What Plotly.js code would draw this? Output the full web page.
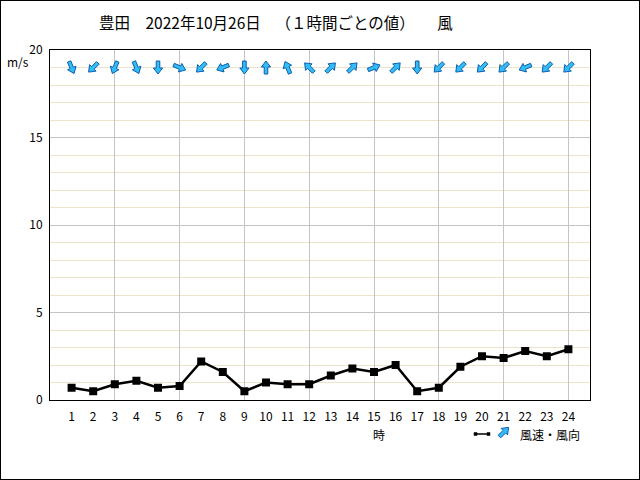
<!DOCTYPE html>
<html>
<head>
<meta charset="utf-8">
<script src="https://cdn.plot.ly/plotly-3.0.1.min.js"></script>
<style>
  html, body { margin: 0; padding: 0; background: #ffffff; }
  #plot { width: 640px; height: 480px; box-shadow: inset 0 0 0 1px #000000; }
</style>
</head>
<body>
<div id="plot"></div>
<script>
// ---- data ----
const hours = [1, 2, 3, 4, 5, 6, 7, 8, 9, 10, 11, 12, 13, 14, 15, 16, 17, 18, 19, 20, 21, 22, 23, 24];
const hourLabels = ['1','2','3','4','5','6','7','8','9','10','11','12','13','14','15','16','17','18','19','20','21','22','23','24'];
const windSpeed = [0.7, 0.5, 0.9, 1.1, 0.7, 0.8, 2.2, 1.6, 0.5, 1.0, 0.9, 0.9, 1.4, 1.8, 1.6, 2.0, 0.5, 0.7, 1.9, 2.5, 2.4, 2.8, 2.5, 2.9];
// direction the wind blows FROM (16 points)
const windFrom = ['北北西','北東','北北東','北北西','北','西北西','北東','東北東','北','南','南南東','南東',
                  '南西','南西','西南西','南西','北','北東','北東','北東','北東','東北東','北東','北東'];
const compass16 = ['北','北北東','北東','東北東','東','東南東','南東','南南東','南','南南西','南西','西南西','西','西北西','北西','北北西'];
const yTickVals = [0, 5, 10, 15, 20];
const arrowLevel = 19;

const FONT = '"Noto Sans CJK JP", "Noto Sans", sans-serif';
const ARROW_FILL = '#33BDF5';
const ARROW_LINE = '#0B5DB0';

// block arrow glyph (pixels), pointing toward compass bearing b (deg, clockwise from north), y up
function arrowPath(bearing, s) {
  const b = bearing * Math.PI / 180;
  const pts = [[-6.5,-1.8],[0.5,-1.8],[0.5,-4.6],[6.5,0],[0.5,4.6],[0.5,1.8],[-6.5,1.8]];
  const f = [Math.sin(b), Math.cos(b)];
  const p = [Math.cos(b), -Math.sin(b)];
  return pts.map((q, i) => {
    const u = q[0] * s, v = q[1] * s;
    const x = u * f[0] + v * p[0];
    const y = u * f[1] + v * p[1];
    return (i === 0 ? 'M' : 'L') + x.toFixed(2) + ',' + y.toFixed(2);
  }).join(' ') + ' Z';
}

const shapes = [];
hours.forEach((h, i) => {
  const from = compass16.indexOf(windFrom[i]) * 22.5;
  shapes.push({
    type: 'path', xref: 'x', yref: 'y', xsizemode: 'pixel', ysizemode: 'pixel',
    xanchor: h, yanchor: arrowLevel, path: arrowPath(from + 180, 1),
    fillcolor: ARROW_FILL, line: { color: ARROW_LINE, width: 1 }, layer: 'above'
  });
});

// legend glyphs (line with markers + arrow)
const W = 640, H = 480, ML = 50, MR = 50, MT = 50, MB = 80;
const pw = W - ML - MR, ph = H - MT - MB;
const px = x => (x - ML) / pw;
const py = y => (H - MB - y) / ph;
shapes.push({
  type: 'path', xref: 'paper', yref: 'paper', xsizemode: 'pixel', ysizemode: 'pixel',
  xanchor: px(482), yanchor: py(434), path: 'M-7,0 L7,0',
  line: { color: '#000', width: 1.5 }
});
shapes.push({
  type: 'path', xref: 'paper', yref: 'paper', xsizemode: 'pixel', ysizemode: 'pixel',
  xanchor: px(482), yanchor: py(434), path: 'M-8,-1.5 L-5,-1.5 L-5,1.5 L-8,1.5 Z M5,-1.5 L8,-1.5 L8,1.5 L5,1.5 Z',
  fillcolor: '#000', line: { color: '#000', width: 0.5 }
});
shapes.push({
  type: 'path', xref: 'paper', yref: 'paper', xsizemode: 'pixel', ysizemode: 'pixel',
  xanchor: px(504), yanchor: py(432), path: arrowPath(45, 1),
  fillcolor: ARROW_FILL, line: { color: ARROW_LINE, width: 1 }
});

const traces = [
  { // carrier for the 3-hour vertical grid (draws nothing)
    type: 'scatter', mode: 'none', x: hours, y: windSpeed, xaxis: 'x2', yaxis: 'y',
    hoverinfo: 'skip', showlegend: false
  },
  {
    type: 'scatter', mode: 'lines+markers', x: hours, y: windSpeed, name: '風速',
    line: { color: '#000000', width: 2.5 },
    marker: { symbol: 'square', size: 8, color: '#000000' },
    cliponaxis: false, showlegend: false
  }
];

const layout = {
  width: W, height: H,
  margin: { l: ML, r: MR, t: MT, b: MB, pad: 0 },
  paper_bgcolor: 'rgba(0,0,0,0)', plot_bgcolor: '#ffffff',
  font: { family: FONT, size: 12, color: '#000' },
  showlegend: false,
  title: {
    text: '豊田　2022年10月26日\u00A0\u00A0　（１時間ごとの値）\u00A0\u00A0　風',
    font: { family: FONT, size: 15.5, color: '#000' },
    xref: 'container', yref: 'container', x: 99 / W, xanchor: 'left', y: 1 - 24 / H, yanchor: 'middle'
  },
  xaxis: {
    range: [0, 25], tickmode: 'array', tickvals: hours, ticktext: hourLabels,
    showgrid: false, zeroline: false, ticks: '', ticklabelstandoff: 6,
    showline: true, linecolor: '#000', linewidth: 1, mirror: true,
    tickfont: { family: FONT, size: 12, color: '#000' }, fixedrange: true
  },
  xaxis2: {
    overlaying: 'x', anchor: 'y', range: [0, 25], tick0: 0, dtick: 3,
    showgrid: true, gridcolor: '#C4C4C4', gridwidth: 1,
    showticklabels: false, ticks: '', zeroline: false, showline: false, fixedrange: true
  },
  yaxis: {
    range: [0, 20], tickmode: 'array', tickvals: yTickVals,
    showgrid: true, gridcolor: '#C4C4C4', gridwidth: 1, zeroline: false,
    minor: { dtick: 1, showgrid: true, gridcolor: '#EDE3CA', gridwidth: 1, ticks: '' },
    ticks: '', ticklabelstandoff: 4,
    showline: true, linecolor: '#000', linewidth: 1, mirror: true,
    tickfont: { family: FONT, size: 12, color: '#000' }, fixedrange: true
  },
  shapes: shapes,
  annotations: [
    { text: 'm/s', xref: 'paper', yref: 'paper', x: px(18), y: py(62), xanchor: 'center', yanchor: 'middle',
      showarrow: false, font: { family: FONT, size: 12, color: '#000' } },
    { text: '時', xref: 'paper', yref: 'paper', x: px(379), y: py(434), xanchor: 'center', yanchor: 'middle',
      showarrow: false, font: { family: FONT, size: 12, color: '#000' } },
    { text: '風速・風向', xref: 'paper', yref: 'paper', x: px(518), y: py(434), xanchor: 'left', yanchor: 'middle',
      showarrow: false, font: { family: FONT, size: 12, color: '#000' } }
  ]
};

Plotly.newPlot('plot', traces, layout, { displayModeBar: false, staticPlot: true });
</script>
</body>
</html>
